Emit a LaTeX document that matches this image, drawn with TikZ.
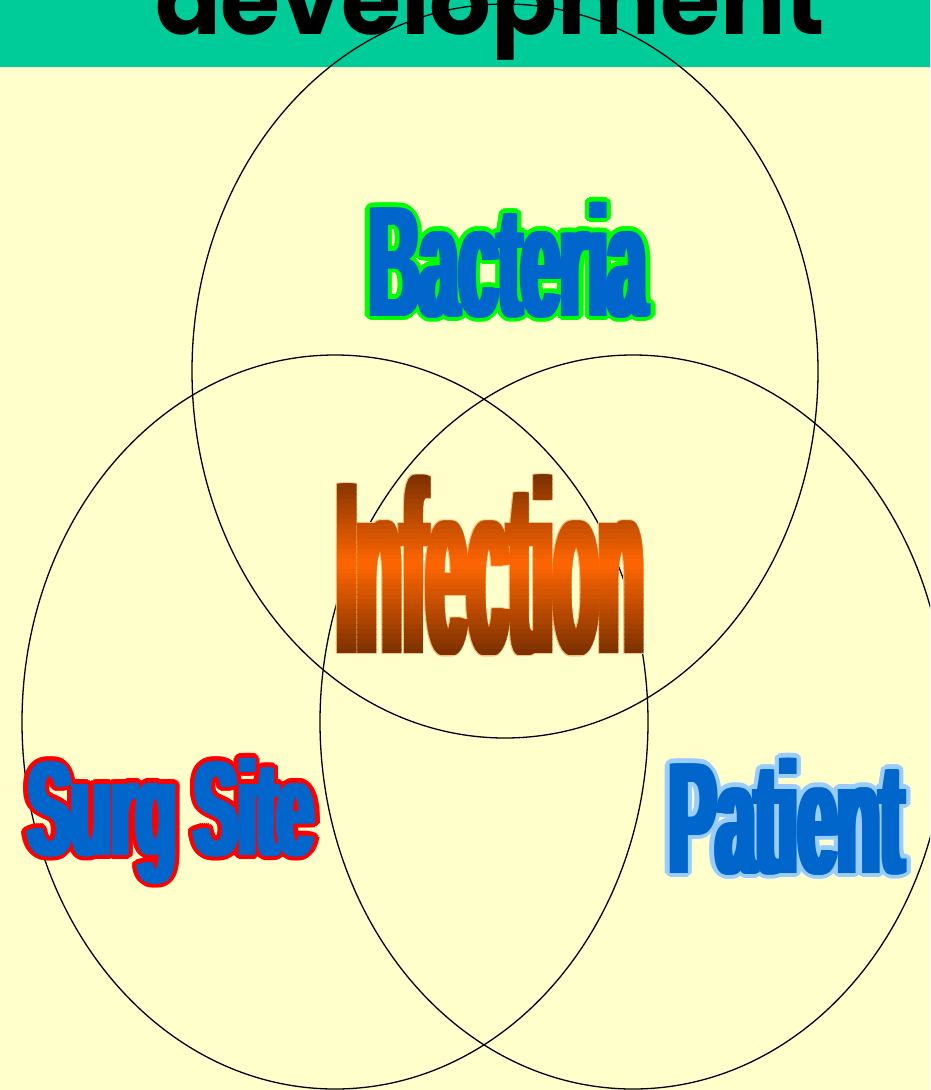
\documentclass[tikz,border=0pt]{standalone}
\usepackage{fontspec}
\usepackage{graphicx}
\usetikzlibrary{shapes.geometric}
\newfontfamily\wafont{Liberation Sans}
\newfontfamily\ttlfont{Poppins}
\definecolor{bgc}{HTML}{FFFFCC}
\definecolor{bannerc}{HTML}{00CC99}
\definecolor{wblue}{HTML}{0066CC}
\definecolor{wgreen}{HTML}{00FF00}
\definecolor{wred}{HTML}{FF0000}
\definecolor{wlblue}{HTML}{99CCFF}
\definecolor{infD}{HTML}{7A3000}
\definecolor{infO}{HTML}{FF6600}
\definecolor{infL}{HTML}{F5C080}
\tikzset{
  wa/.style={anchor=base west, inner sep=0pt, outer sep=0pt},
  circ/.style={ellipse, draw=black, line width=1.3pt, inner sep=0pt,
    minimum width=626pt, minimum height=734pt},
}
% #1 name, #2 fill-left x, #3 baseline y, #4 glyph width, #5 glyph height,
% #6 fill colour, #7 outline colour, #8 text
\newcommand\wordart[8]{%
  \foreach \dx [count=\ci] in {-4,-2,0,2,4}{%
    \foreach \ang [count=\cj] in {0,22.5,...,337.5}{%
      \node[wa, name=#1-o\ci-\cj] at ({#2+4+\dx+4.2*cos(\ang)},{#3+4.2*sin(\ang)})
        {\textcolor{#7}{\resizebox{#4}{#5}{\wafont\bfseries #8}}};
    }%
    \foreach \ang [count=\cj] in {0,45,...,315}{%
      \node[wa, name=#1-p\ci-\cj] at ({#2+4+\dx+2*cos(\ang)},{#3+2*sin(\ang)})
        {\textcolor{#7}{\resizebox{#4}{#5}{\wafont\bfseries #8}}};
    }%
  }%
  \foreach \dx [count=\ci] in {-4,-3,...,4}{%
    \node[wa, name=#1-f\ci] at ({#2+4+\dx},{#3})
      {\textcolor{#6}{\resizebox{#4}{#5}{\wafont\bfseries #8}}};
  }%
}
\begin{document}
\begin{tikzpicture}[x=1pt,y=-1pt]
\useasboundingbox (0,0) rectangle (930,1090);
\clip (0,0) rectangle (930,1090);
\fill[bgc] (0,0) rectangle (930,1090);
\fill[bannerc] (0,0) rectangle (930,67);
\node[wa] (title) at (155,34) {\resizebox{670pt}{!}{\ttlfont\bfseries development}};
% circles
\node[circ] (cbact) at (505,371) {};
\node[circ] (csurg) at (335,722) {};
\node[circ] (cpat) at (633,722) {};
% words
\wordart{bact}{365}{316}{278pt}{114pt}{wblue}{wgreen}{Bacteria}
\wordart{surg}{24}{855}{286pt}{97pt}{wblue}{wred}{Surg Site}
\wordart{pat}{665}{873}{235pt}{115pt}{wblue}{wlblue}{Patient}
% Infection: light rim then banded gradient
\foreach \dx [count=\ci] in {-5.5,-3.5,...,5.5}{%
  \foreach \dy [count=\cj] in {-1,0,1}{%
    \node[wa, name=inf-r\ci-\cj] at ({336.5+\dx},{653+\dy})
      {\textcolor{infL}{\resizebox{307pt}{178pt}{\wafont\bfseries Infection}}};
  }%
}
\foreach \i in {0,...,35}{%
  \pgfmathsetmacro\tt{(\i+0.5)/36}%
  \pgfmathsetmacro\pp{100*(1-abs(2*\tt-1.0))}%
  \colorlet{bandc}{infO!\pp!infD}%
  \begin{scope}
    \clip (300,{474+\i*180/36}) rectangle (680,{474+(\i+1)*180/36+0.7});
    \foreach \dx [count=\ci] in {-4.5,-3.5,...,4.5}{%
      \node[wa, name=inf-b\i-\ci] at ({336.5+\dx},653)
        {\textcolor{bandc}{\resizebox{307pt}{178pt}{\wafont\bfseries Infection}}};
    }%
  \end{scope}
}
\end{tikzpicture}
\end{document}
